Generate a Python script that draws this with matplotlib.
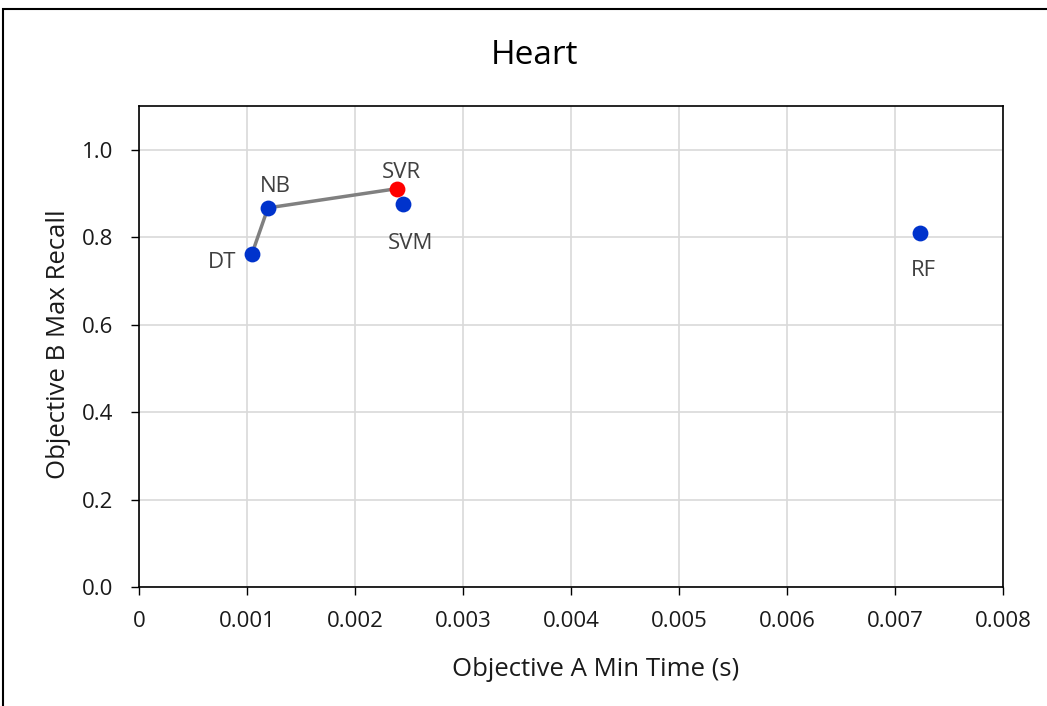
import matplotlib
matplotlib.use("Agg")
import matplotlib.pyplot as plt
from matplotlib.patches import Rectangle

plt.rcParams['font.family'] = ['Open Sans', 'DejaVu Sans']

models = ["DT", "NB", "SVR", "SVM", "RF"]
time_s = [0.001046, 0.001194, 0.002389, 0.002444, 0.007231]
recall = [0.762, 0.867, 0.911, 0.876, 0.810]
front = ["DT", "NB", "SVR"]
colors = {"DT": "#0033cc", "NB": "#0033cc", "SVR": "#ff0000", "SVM": "#0033cc", "RF": "#0033cc"}
x_ticks = [0, 0.001, 0.002, 0.003, 0.004, 0.005, 0.006, 0.007, 0.008]
x_tick_labels = ["0", "0.001", "0.002", "0.003", "0.004", "0.005", "0.006", "0.007", "0.008"]
y_ticks = [0.0, 0.2, 0.4, 0.6, 0.8, 1.0]

fig = plt.figure(figsize=(10.47, 7.06), dpi=100)
fig.patches.append(Rectangle((3/1047, -0.1), 1.2, (706-9)/706 + 0.1, transform=fig.transFigure,
                             fill=False, edgecolor="black", linewidth=1.5))
ax = fig.add_axes([139/1047, (706-587)/706, (1003-139)/1047, (587-106)/706])

fx = [time_s[models.index(m)] for m in front]
fy = [recall[models.index(m)] for m in front]
ax.plot(fx, fy, color="#808080", linewidth=2.5, zorder=2)
for m, x, y in zip(models, time_s, recall):
    ax.scatter([x], [y], s=130, color=colors[m], zorder=3, linewidths=0)

# label offsets (pixels, baseline-anchored)
offsets = {"DT": (-30, -14), "NB": (7, 16), "SVR": (4, 11), "SVM": (8, -45), "RF": (3, -43)}
for m, x, y in zip(models, time_s, recall):
    dx, dy = offsets[m]
    ax.annotate(m, (x, y), xytext=(dx, dy), textcoords="offset pixels",
                ha="center", va="baseline", fontsize=16, color="#404040")

ax.set_xlim(0, 0.008)
ax.set_ylim(0, 1.1)
ax.set_xticks(x_ticks)
ax.set_xticklabels(x_tick_labels)
ax.set_yticks(y_ticks)
ax.set_yticklabels([f"{v:.1f}" for v in y_ticks])
ax.grid(True, color="#d9d9d9", linewidth=1.2)
ax.set_axisbelow(True)
for s in ax.spines.values():
    s.set_color("black")
    s.set_linewidth(1.2)
ax.tick_params(axis="both", direction="out", length=6, width=1, labelsize=16, colors="black",
               labelcolor="#1a1a1a")
ax.tick_params(axis="x", pad=11)
ax.tick_params(axis="y", pad=12.5)

fig.text(596/1047, 1 - 669/706, "Objective A Min Time (s)", ha="center", va="center",
         fontsize=18.5, color="#1a1a1a")
fig.text(59/1047, 1 - 344/706, "Objective B Max Recall", ha="center", va="center",
         rotation=90, fontsize=18.5, color="#1a1a1a")
fig.text(534/1047, 1 - 55/706, "Heart", ha="center", va="center", fontsize=24, color="black")

fig.savefig("out.png", dpi=100, facecolor="white")
